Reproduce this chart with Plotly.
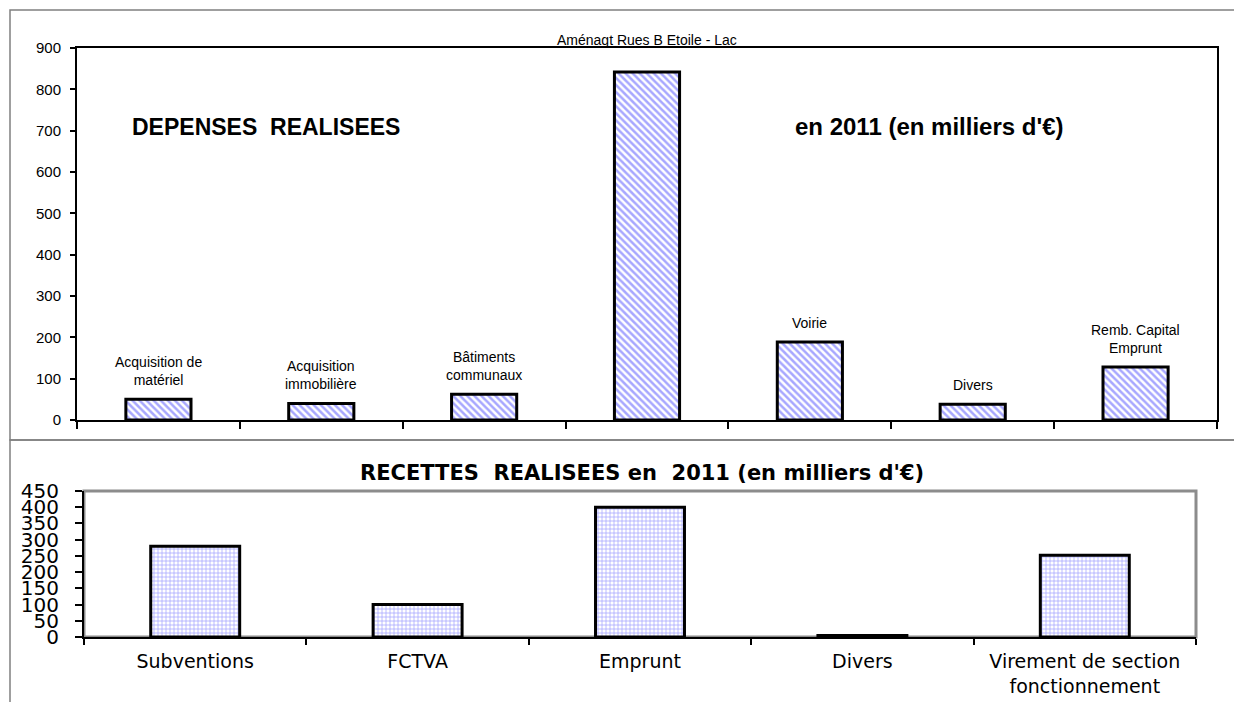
import plotly.graph_objects as go

# ---- data ----
dep_categories = ["Acquisition de<br>matériel", "Acquisition<br>immobilière", "Bâtiments<br>communaux",
                  "Aménagt Rues B Etoile - Lac", "Voirie", "Divers", "Remb. Capital<br>Emprunt"]
dep_values = [50, 40, 62, 842, 189, 38, 128]

rec_categories = ["Subventions", "FCTVA", "Emprunt", "Divers", "Virement de section<br>fonctionnement"]
rec_values = [280, 100, 400, 5, 252]

dep_ticks = [0, 100, 200, 300, 400, 500, 600, 700, 800, 900]
rec_ticks = [0, 50, 100, 150, 200, 250, 300, 350, 400, 450]

W, H = 1234, 702
def px(x): return x / W
def py(y): return 1 - y / H

ARIAL = "Liberation Sans, Arial, sans-serif"
DEJA = "DejaVu Sans, sans-serif"

fig = go.Figure()

fig.add_trace(go.Bar(
    x=dep_categories, y=dep_values, xaxis="x", yaxis="y", width=0.4,
    marker=dict(color="white", line=dict(color="black", width=3),
                pattern=dict(shape="\\", fgcolor="#4f4fff", bgcolor="white", size=5, solidity=0.5)),
    hoverinfo="x+y",
))
fig.add_trace(go.Bar(
    x=rec_categories, y=rec_values, xaxis="x2", yaxis="y2", width=0.4,
    marker=dict(color="white", line=dict(color="black", width=3),
                pattern=dict(shape="+", fgcolor="#5050ff", bgcolor="white", size=4, solidity=0.35)),
    hoverinfo="x+y",
))

annotations = []
big = max(dep_values)
for c, v in zip(dep_categories, dep_values):
    annotations.append(dict(x=c, y=v, xref="x", yref="y", text=c, showarrow=False,
                            yanchor="bottom", yshift=22 if v == big else 9,
                            font=dict(family=ARIAL, size=14, color="black")))

annotations += [
    dict(x=px(130), y=py(127), xref="paper", yref="paper", xanchor="left", yanchor="middle",
         text="<b>DEPENSES  REALISEES</b>", showarrow=False,
         font=dict(family=ARIAL, size=23, color="black")),
    dict(x=px(793), y=py(127), xref="paper", yref="paper", xanchor="left", yanchor="middle",
         text="<b>en 2011 (en milliers d'€)</b>", showarrow=False,
         font=dict(family=ARIAL, size=24, color="black")),
    dict(x=px(642), y=py(473), xref="paper", yref="paper", xanchor="center", yanchor="middle",
         text="<b>RECETTES  REALISEES en  2011 (en milliers d'€)</b>", showarrow=False,
         font=dict(family=DEJA, size=21, color="black")),
]

shapes = [
    # outer frames
    dict(type="rect", xref="paper", yref="paper", x0=px(10), x1=1.05, y0=py(440), y1=py(10),
         line=dict(color="#808080", width=1.5), layer="below"),
    dict(type="rect", xref="paper", yref="paper", x0=px(10), x1=1.05, y0=-0.05, y1=py(440),
         line=dict(color="#808080", width=1.5), layer="below"),
    # gray frame of lower plot area
    dict(type="rect", xref="x2 domain", yref="y2 domain", x0=0, x1=1, y0=0, y1=1,
         line=dict(color="#8c8c8c", width=3), layer="below"),
]

fig.update_layout(
    width=W, height=H, autosize=False, margin=dict(l=0, r=0, t=0, b=0, pad=0),
    paper_bgcolor="white", plot_bgcolor="white", showlegend=False,
    annotations=annotations, shapes=shapes,
    xaxis=dict(domain=[px(77), px(1217)], type="category", showticklabels=False,
               tickson="boundaries", ticks="outside", ticklen=7, tickwidth=1.5, tickcolor="black",
               showline=True, linecolor="black", linewidth=2, mirror=True, showgrid=False,
               automargin=False, anchor="y"),
    yaxis=dict(domain=[py(420), py(48)], range=[0, 900], tickvals=dep_ticks,
               ticks="outside", ticklen=5, tickwidth=1.5, tickcolor="black",
               showline=True, linecolor="black", linewidth=2, mirror=True, showgrid=False,
               zeroline=False, tickfont=dict(family=ARIAL, size=15, color="black"),
               ticklabelstandoff=6, automargin=False, anchor="x"),
    xaxis2=dict(domain=[px(84), px(1196)], type="category", tickson="boundaries",
                ticks="outside", ticklen=6, tickwidth=1.5, tickcolor="black",
                showline=True, linecolor="black", linewidth=2, showgrid=False,
                ticklabelstandoff=6, automargin=False,
                tickfont=dict(family=DEJA, size=19, color="black"), anchor="y2"),
    yaxis2=dict(domain=[py(637), py(491)], range=[0, 450], tickvals=rec_ticks,
                ticks="outside", ticklen=7, tickwidth=1.5, tickcolor="black",
                showline=True, linecolor="black", linewidth=2, showgrid=False, zeroline=False,
                ticklabelstandoff=12, automargin=False,
                tickfont=dict(family=DEJA, size=20, color="black"), anchor="x2"),
)

fig.write_html("out.html", config={"displayModeBar": False},
               post_script="document.body.style.margin='0';document.body.style.overflow='hidden';")
